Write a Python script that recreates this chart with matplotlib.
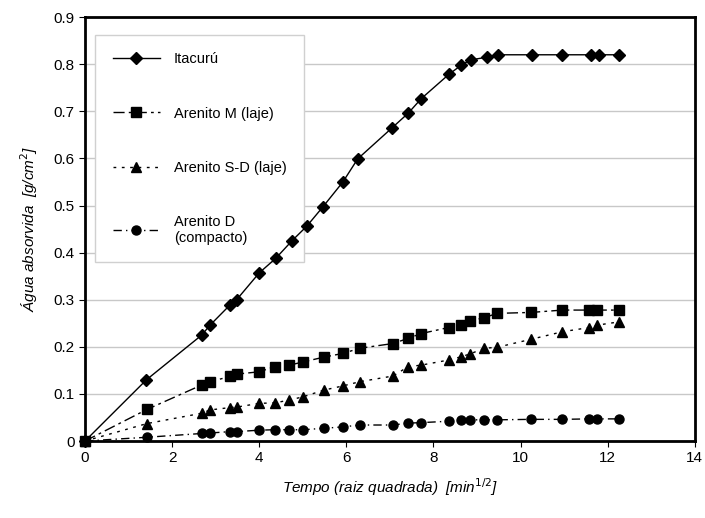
import matplotlib.pyplot as plt

plt.rcParams['font.family'] = ['Liberation Sans', 'DejaVu Sans']

# Itacurú
x_ita = [0, 1.41, 2.68, 2.87, 3.33, 3.48, 4.0, 4.38, 4.75, 5.09, 5.46, 5.92, 6.26,
         7.05, 7.42, 7.72, 8.36, 8.64, 8.85, 9.23, 9.48, 10.27, 10.96, 11.62, 11.8, 12.25]
y_ita = [0, 0.13, 0.225, 0.246, 0.289, 0.30, 0.357, 0.388, 0.425, 0.456, 0.497, 0.55, 0.599,
         0.665, 0.696, 0.727, 0.779, 0.798, 0.809, 0.815, 0.82, 0.82, 0.82, 0.82, 0.82, 0.82]

# time points shared by the three Arenito series
x_are = [0, 1.42, 2.68, 2.87, 3.33, 3.48, 4.0, 4.36, 4.69, 5.01, 5.48, 5.92, 6.31,
         7.07, 7.42, 7.71, 8.35, 8.64, 8.84, 9.17, 9.46, 10.24, 10.96, 11.58, 11.76, 12.26]
y_m = [0, 0.067, 0.119, 0.126, 0.137, 0.142, 0.147, 0.158, 0.161, 0.168, 0.178, 0.186, 0.197,
       0.207, 0.218, 0.228, 0.241, 0.246, 0.255, 0.262, 0.271, 0.273, 0.278, 0.278, 0.278, 0.278]
y_sd = [0, 0.037, 0.059, 0.066, 0.071, 0.072, 0.080, 0.081, 0.087, 0.094, 0.108, 0.117, 0.126,
        0.138, 0.158, 0.161, 0.172, 0.179, 0.185, 0.197, 0.199, 0.216, 0.232, 0.241, 0.246, 0.253]
y_d = [0, 0.008, 0.016, 0.017, 0.020, 0.020, 0.023, 0.024, 0.024, 0.024, 0.027, 0.030, 0.034,
       0.034, 0.038, 0.039, 0.042, 0.044, 0.045, 0.045, 0.045, 0.046, 0.046, 0.047, 0.047, 0.047]

fig = plt.figure(figsize=(7.05, 5.18), dpi=100)
ax = fig.add_axes([0.1206, 0.1486, 0.865, 0.8184])

ax.plot(x_ita, y_ita, color='black', lw=1, ls='-', marker='D', ms=6, clip_on=False,
        zorder=4, label='Itacurú')
ax.plot(x_are, y_m, color='black', lw=1, ls=(0, (8, 3, 2, 3)), marker='s', ms=6.5,
        clip_on=False, zorder=3, label='Arenito M (laje)')
ax.plot(x_are, y_sd, color='black', lw=1, ls=(0, (2, 4)), marker='^', ms=6.5,
        clip_on=False, zorder=3, label='Arenito S-D (laje)')
ax.plot(x_are, y_d, color='black', lw=1, ls=(0, (6, 3, 1, 3)), marker='o', ms=6.5,
        clip_on=False, zorder=3, label='Arenito D\n(compacto)')

ax.set_xlim(0, 14)
ax.set_ylim(0, 0.9)
ax.set_xticks(range(0, 15, 2))
ax.set_yticks([i / 10 for i in range(10)])
ax.set_yticklabels(['0'] + ['0.%d' % i for i in range(1, 10)])
ax.yaxis.grid(True, color='#c8c8c8', lw=1)
ax.set_axisbelow(True)
ax.tick_params(labelsize=11, length=4, direction='out')
for s in ax.spines.values():
    s.set_linewidth(2)
    s.set_zorder(5)

ax.set_xlabel('Tempo (raiz quadrada)  [min$^{1/2}$]', fontsize=11, style='italic', labelpad=8)
ax.set_ylabel('Água absorvida  [g/cm$^2$]', fontsize=11, style='italic', labelpad=10)

leg = ax.legend(loc='upper left', bbox_to_anchor=(0.005, 0.975), fontsize=10.5,
                labelspacing=2.75, handlelength=3.2, handletextpad=1.0, borderpad=1.2,
                framealpha=1, fancybox=False, edgecolor='#d0d0d0')
leg.get_frame().set_linewidth(1)
leg.set_zorder(2)

fig.savefig('out.png', dpi=100)
